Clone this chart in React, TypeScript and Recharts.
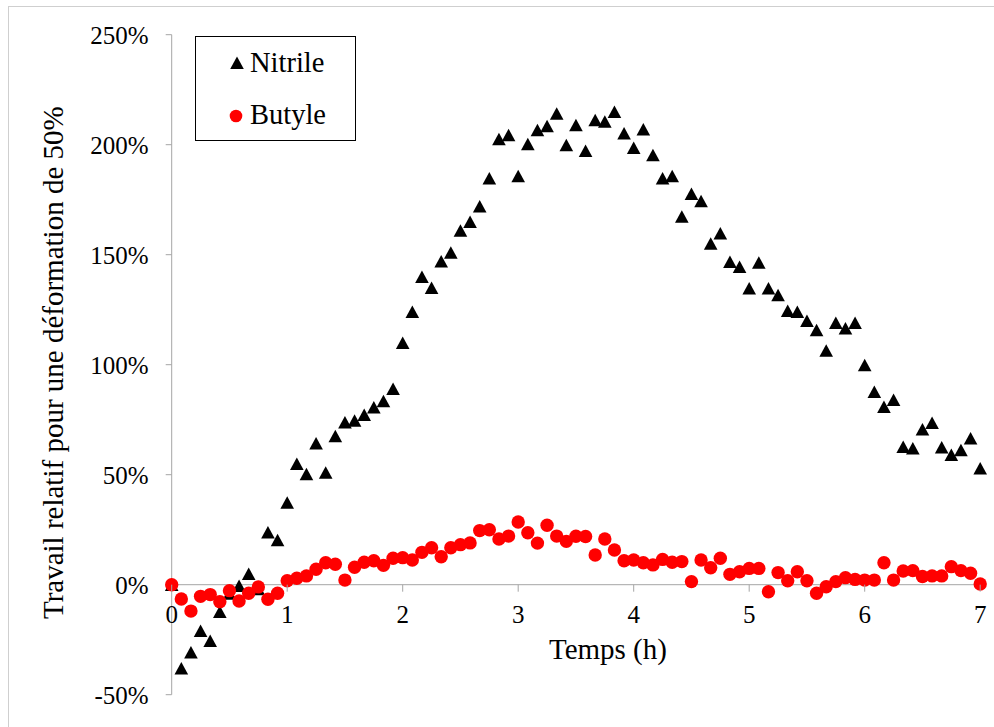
import React from 'react';
import {
  ScatterChart, Scatter, XAxis, YAxis, ReferenceLine, Legend,
} from 'recharts';

// sampling times (minutes), one reading every 5 min
const minutes = [
  0, 5, 10, 15, 20, 25, 30, 35, 40, 45, 50, 55,
  60, 65, 70, 75, 80, 85, 90, 95, 100, 105, 110, 115,
  120, 125, 130, 135, 140, 145, 150, 155, 160, 165, 170, 175,
  180, 185, 190, 195, 200, 205, 210, 215, 220, 225, 230, 235,
  240, 245, 250, 255, 260, 265, 270, 275, 280, 285, 290, 295,
  300, 305, 310, 315, 320, 325, 330, 335, 340, 345, 350, 355,
  360, 365, 370, 375, 380, 385, 390, 395, 400, 405, 410, 415,
  420,
];

// relative work (%) for a 50% strain
const nitrile = [
  0, -38, -30.7, -21, -25.5, -12.3, -4, -0.5, 5, -2, 23.8, 20.3,
  37.3, 54.9, 50.3, 64.3, 51, 67.6, 73.8, 74.6, 77.2, 80.6, 83.5, 89,
  110, 124, 140, 135, 147, 151, 161, 165, 172, 184.7, 202.6, 204.4,
  185.8, 200.3, 206.7, 208.5, 214.2, 199.8, 208.9, 197.2, 211.2, 210.5, 215, 205.2,
  198.6, 207, 195.3, 184.7, 185.8, 167.3, 177.7, 174.4, 155.1, 159.7, 146.8, 144.5,
  134.7, 146.4, 134.7, 131.7, 124.5, 124.1, 120, 115.8, 106.4, 119.1, 116.5, 119.1,
  99.8, 87.7, 80.9, 84, 62.7, 62, 70.6, 73.6, 62.4, 59, 61.2, 66.5,
  52.9,
];

const butyle = [
  0, -6.5, -12, -5.3, -4.5, -7.7, -2.7, -7.4, -3.9, -1, -6.6, -3.9,
  1.8, 2.9, 4, 7, 10, 9.3, 2.1, 7.9, 10.2, 10.9, 8.8, 12,
  12.3, 11.2, 14.7, 16.8, 12.7, 16.8, 18.2, 19, 24.6, 25, 20.8, 22.1,
  28.5, 23.6, 18.9, 27, 22.1, 19.7, 22, 21.9, 13.5, 20.8, 15.8, 10.9,
  11.2, 10, 9, 11.5, 10.2, 10.5, 1.4, 11.2, 7.7, 12, 4.7, 5.9,
  7.4, 7.4, -3.2, 5.5, 1.8, 5.9, 1.8, -3.9, -0.9, 1.4, 3.2, 2.4,
  2.1, 2.1, 10, 2.1, 6.2, 6.4, 3.7, 4, 4, 8.2, 6.4, 5.2,
  0.3,
];

const xTicks = [0, 1, 2, 3, 4, 5, 6, 7];
const yTicks = [-50, 0, 50, 100, 150, 200, 250];

const FONT = 'Liberation Serif';
const AXIS_GRAY = '#a6a6a6';

const W = 994;
const H = 727;
const MARGIN = { top: 34.7, right: 13.8, bottom: 2.3, left: 111.7 };
const X_AXIS_H = 30;
const PLOT_H = H - MARGIN.top - MARGIN.bottom - X_AXIS_H;
const Y_MIN = -50;
const Y_MAX = 250;
// the x axis crosses at 0%
const ZERO_Y = MARGIN.top + (PLOT_H * (Y_MAX - 0)) / (Y_MAX - Y_MIN);

const nitrileData = minutes.map((m, i) => ({ t: m / 60, v: nitrile[i] }));
const butyleData = minutes.map((m, i) => ({ t: m / 60, v: butyle[i] }));

const Triangle = ({ cx, cy }: { cx?: number; cy?: number }) => {
  if (cx == null || cy == null) return null;
  return (
    <polygon
      points={`${cx},${cy - 6.3} ${cx + 6.8},${cy + 6.2} ${cx - 6.8},${cy + 6.2}`}
      fill="#000"
    />
  );
};

const Dot = ({ cx, cy }: { cx?: number; cy?: number }) => {
  if (cx == null || cy == null) return null;
  return <circle cx={cx} cy={cy} r={6.7} fill="#ff0000" />;
};

const XTick = ({ x, payload }: { x?: number; payload?: { value: number } }) => (
  <g>
    <line x1={x} x2={x} y1={ZERO_Y} y2={ZERO_Y + 7} stroke={AXIS_GRAY} />
    <text
      x={x}
      y={ZERO_Y + 21}
      dy="0.71em"
      textAnchor="middle"
      fill="#000"
      fontSize={25}
      fontFamily={FONT}
    >
      {payload?.value}
    </text>
  </g>
);

const LegendBox = () => (
  <div style={{
    width: 159,
    height: 103,
    border: '1px solid #000',
    background: '#fff',
    fontFamily: FONT,
    fontSize: 28.5,
    color: '#000',
    position: 'relative',
  }}>
    <svg width={16} height={16} style={{ position: 'absolute', left: 33, top: 18 }}>
      <polygon points="8,1.5 14.8,14 1.2,14" fill="#000" />
    </svg>
    <span style={{ position: 'absolute', left: 54, top: 9, lineHeight: '34px' }}>Nitrile</span>
    <svg width={16} height={16} style={{ position: 'absolute', left: 32, top: 71 }}>
      <circle cx={8} cy={8} r={6.3} fill="#ff0000" />
    </svg>
    <span style={{ position: 'absolute', left: 54, top: 61, lineHeight: '34px' }}>Butyle</span>
  </div>
);

export default function App() {
  return (
    <div style={{ position: 'absolute', left: 0, top: 0, width: W, height: H, background: '#fff' }}>
      <div style={{
        position: 'absolute',
        left: 8,
        top: 6,
        width: W - 8,
        height: H - 6,
        borderTop: '1px solid #cfcfcf',
        borderLeft: '1px solid #cfcfcf',
      }} />
      <div style={{ position: 'absolute', left: 0, top: 0 }}>
        <ScatterChart width={W} height={H} margin={MARGIN}>
          <XAxis
            type="number"
            dataKey="t"
            domain={[0, 7]}
            ticks={xTicks}
            axisLine={false}
            tickLine={false}
            height={X_AXIS_H}
            tick={<XTick />}
            label={{
              content: ({ viewBox }: any) => (
                <text
                  x={viewBox.x + viewBox.width / 2 + 32}
                  y={659}
                  textAnchor="middle"
                  fill="#000"
                  fontSize={29}
                  fontFamily={FONT}
                >
                  Temps (h)
                </text>
              ),
            }}
          />
          <YAxis
            type="number"
            dataKey="v"
            domain={[Y_MIN, Y_MAX]}
            ticks={yTicks}
            width={60}
            tickSize={6}
            tickMargin={17}
            axisLine={{ stroke: AXIS_GRAY }}
            tickLine={{ stroke: AXIS_GRAY }}
            tick={{ fill: '#000', fontSize: 25, fontFamily: FONT }}
            tickFormatter={(v: number) => `${v}%`}
            label={{
              content: ({ viewBox }: any) => {
                const cy = viewBox.y + viewBox.height / 2 - 2;
                return (
                  <text
                    x={63}
                    y={cy}
                    transform={`rotate(-90, 63, ${cy})`}
                    textAnchor="middle"
                    fill="#000"
                    fontSize={29}
                    fontFamily={FONT}
                  >
                    Travail relatif pour une déformation de 50%
                  </text>
                );
              },
            }}
          />
          <ReferenceLine y={0} stroke={AXIS_GRAY} />
          <Legend
            layout="horizontal"
            verticalAlign="middle"
            align="center"
            wrapperStyle={{ left: 195, top: 36, width: 161, height: 105 }}
            content={() => <LegendBox />}
          />
          <Scatter name="Nitrile" data={nitrileData} shape={<Triangle />} isAnimationActive={false} />
          <Scatter name="Butyle" data={butyleData} shape={<Dot />} isAnimationActive={false} />
        </ScatterChart>
      </div>
    </div>
  );
}
